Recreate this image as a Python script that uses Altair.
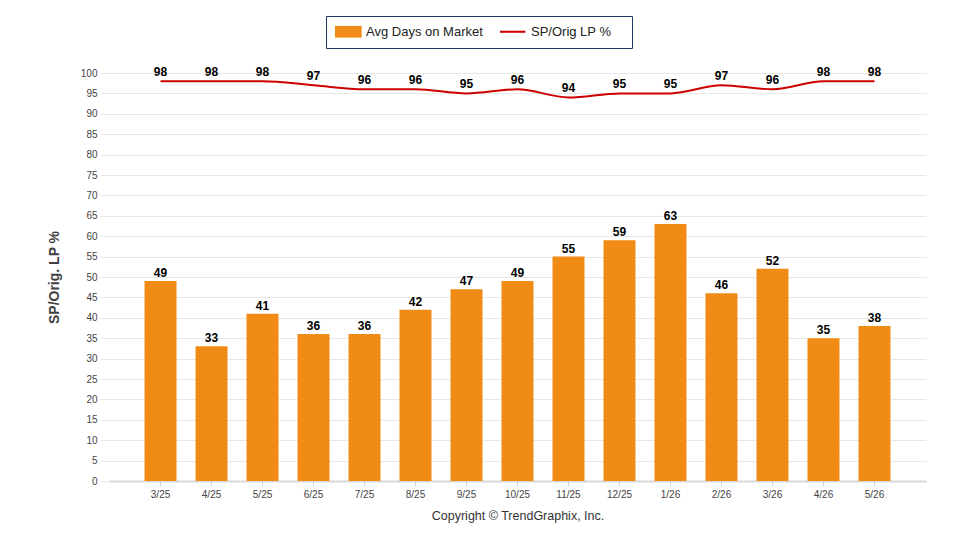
import altair as alt
import pandas as pd

months = ["3/25", "4/25", "5/25", "6/25", "7/25", "8/25", "9/25", "10/25",
          "11/25", "12/25", "1/26", "2/26", "3/26", "4/26", "5/26"]
days_on_market = [49, 33, 41, 36, 36, 42, 47, 49, 55, 59, 63, 46, 52, 35, 38]
sp_orig_lp = [98, 98, 98, 97, 96, 96, 95, 96, 94, 95, 95, 97, 96, 98, 98]
y_ticks = list(range(0, 101, 5))

series_names = ["Avg Days on Market", "SP/Orig LP %"]
ORANGE = "#F08C15"
RED = "#CC0000"
FONT = "Liberation Sans"

df = pd.DataFrame({
    "month": months,
    "days": days_on_market,
    "sp": sp_orig_lp,
    "bar_series": series_names[0],
})

x_axis = alt.Axis(
    title="Copyright © TrendGraphix, Inc.", titleFontSize=12.5,
    titleFontWeight="normal", titleColor="#333333", titleFont=FONT,
    titlePadding=10, labelAngle=0, labelFontSize=10, labelColor="#444444",
    labelFont=FONT, labelPadding=3, domainColor="#d9d9d9", domainWidth=2,
    tickColor="#d0d0d0", tickSize=5, grid=False,
)
x_scale = alt.Scale(paddingInner=0.373, paddingOuter=0.697)


def x_enc():
    return alt.X("month:N", sort=months, scale=x_scale, axis=x_axis)


y_scale = alt.Scale(domain=[0, 100], nice=False, zero=True)
y_axis = alt.Axis(
    title="SP/Orig. LP %", titleFontSize=14, titleFontWeight="bold",
    titleColor="#404040", titleFont=FONT, titlePadding=19,
    values=y_ticks, labelOverlap=False, labelFontSize=10,
    labelColor="#444444", labelFont=FONT, labelPadding=3, tickSize=9,
    tickColor="#e8e8e8", domain=False, grid=True, gridColor="#e8e8e8",
    gridWidth=1,
)


def y_enc(field):
    return alt.Y(field, scale=y_scale, axis=y_axis)


sym_expr = ("datum.value == 'SP/Orig LP %' ? 'M-1,-0.16H2.9V0.16H-1Z' "
            ": 'M-1,-0.9H3.1V0.9H-1Z'")

legend = alt.Legend(
    title=".", titleOrient="right", titleOpacity=0, titleFontSize=10,
    titlePadding=9,
    orient="none", legendX=217, legendY=-57, direction="horizontal",
    strokeColor="#1F3864", fillColor="#ffffff", padding=9,
    labelFont=FONT, labelFontSize=13, labelColor="#222222", labelOffset=18,
    symbolSize=169, symbolType=alt.ExprRef(sym_expr), symbolStrokeWidth=0,
    columnPadding=17, symbolOpacity=1,
)

base = alt.Chart(df)

bars = base.mark_bar().encode(
    x=x_enc(),
    y=y_enc("days:Q"),
    color=alt.Color("bar_series:N",
                    scale=alt.Scale(domain=series_names, range=[ORANGE, RED]),
                    legend=legend),
)

bar_labels = base.mark_text(
    dy=-4, baseline="alphabetic", fontWeight="bold", fontSize=12,
    font=FONT, color="#000000",
).encode(x=x_enc(), y=y_enc("days:Q"), text="days:Q")

line = base.mark_line(color=RED, strokeWidth=2, interpolate="monotone").encode(
    x=x_enc(), y=y_enc("sp:Q"),
)

line_labels = base.mark_text(
    dy=-5, baseline="alphabetic", fontWeight="bold", fontSize=12,
    font=FONT, color="#000000",
).encode(x=x_enc(), y=y_enc("sp:Q"), text="sp:Q")

chart = alt.layer(bars, bar_labels, line, line_labels).properties(
    width=817, height=408,
    autosize=alt.AutoSizeParams(type="none"),
    padding={"left": 109, "top": 73, "right": 34, "bottom": 69},
).configure(background="#ffffff").configure_view(strokeWidth=0, stroke="transparent")

chart.save("out.html", embed_options={"renderer": "svg", "actions": False})
